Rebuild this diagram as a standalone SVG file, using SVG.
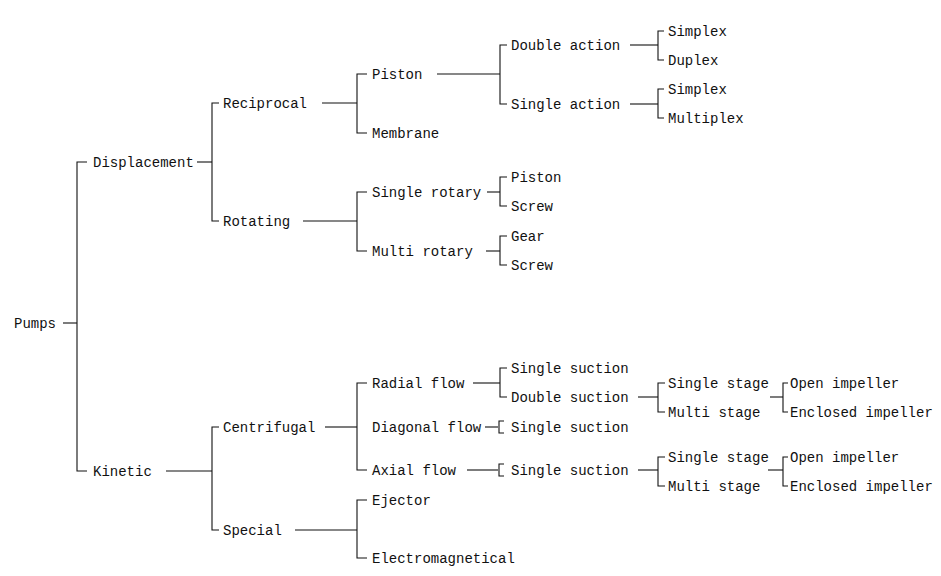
<svg xmlns="http://www.w3.org/2000/svg" width="941" height="576" viewBox="0 0 941 576">
<style>
text{font-family:"Liberation Mono","DejaVu Sans Mono",monospace;font-size:14px;fill:#111}
.c path,.c line{fill:none;stroke:#111;stroke-width:1.1}
</style>
<rect width="941" height="576" fill="#fff"/>
<g id="connectors" class="c">
<line x1="63" y1="323" x2="77" y2="323"/>
<path d="M87,162H77V471H87"/>
<line x1="197" y1="162" x2="212" y2="162"/>
<path d="M219,103H212V221H219"/>
<line x1="322" y1="103" x2="357" y2="103"/>
<path d="M367,74H357V133H367"/>
<line x1="437" y1="74" x2="500" y2="74"/>
<path d="M507,45H500V104H507"/>
<line x1="630" y1="45" x2="658" y2="45"/>
<path d="M664,31H658V60H664"/>
<line x1="630" y1="104" x2="658" y2="104"/>
<path d="M664,89H658V118H664"/>
<line x1="303" y1="221" x2="357" y2="221"/>
<path d="M367,192H357V251H367"/>
<line x1="487" y1="192" x2="500" y2="192"/>
<path d="M507,177H500V206H507"/>
<line x1="486" y1="251" x2="500" y2="251"/>
<path d="M507,236H500V265H507"/>
<line x1="166" y1="471" x2="212" y2="471"/>
<path d="M219,427H212V530H219"/>
<line x1="325" y1="427" x2="357" y2="427"/>
<path d="M367,383H357V470H367"/>
<line x1="473" y1="383" x2="500" y2="383"/>
<path d="M507,368H500V397H507"/>
<line x1="485" y1="427" x2="498" y2="427"/>
<path d="M504,421H499V433H504"/>
<line x1="467" y1="470" x2="498" y2="470"/>
<path d="M504,464H499V476H504"/>
<line x1="638" y1="397" x2="658" y2="397"/>
<path d="M665,383H658V412H665"/>
<line x1="638" y1="470" x2="658" y2="470"/>
<path d="M665,457H658V486H665"/>
<line x1="770" y1="397" x2="783" y2="397"/>
<path d="M788,383H783V412H788"/>
<line x1="768" y1="470" x2="783" y2="470"/>
<path d="M788,457H783V486H788"/>
<line x1="295" y1="530" x2="357" y2="530"/>
<path d="M367,500H357V558H367"/>
</g>
<g id="pumps"><text x="14" y="328">Pumps</text></g>
<g id="displacement"><text x="93" y="167">Displacement</text></g>
<g id="kinetic"><text x="93" y="476">Kinetic</text></g>
<g id="reciprocal"><text x="223" y="108">Reciprocal</text></g>
<g id="rotating"><text x="223" y="226">Rotating</text></g>
<g id="centrifugal"><text x="223" y="432">Centrifugal</text></g>
<g id="special"><text x="223" y="535">Special</text></g>
<g id="piston"><text x="372" y="79">Piston</text></g>
<g id="membrane"><text x="372" y="138">Membrane</text></g>
<g id="single-rotary"><text x="372" y="197">Single rotary</text></g>
<g id="multi-rotary"><text x="372" y="256">Multi rotary</text></g>
<g id="radial-flow"><text x="372" y="388">Radial flow</text></g>
<g id="diagonal-flow"><text x="372" y="432">Diagonal flow</text></g>
<g id="axial-flow"><text x="372" y="475">Axial flow</text></g>
<g id="ejector"><text x="372" y="505">Ejector</text></g>
<g id="electromagnetical"><text x="372" y="563">Electromagnetical</text></g>
<g id="double-action"><text x="511" y="50">Double action</text></g>
<g id="single-action"><text x="511" y="109">Single action</text></g>
<g id="rot-piston"><text x="511" y="182">Piston</text></g>
<g id="rot-screw-1"><text x="511" y="211">Screw</text></g>
<g id="gear"><text x="511" y="241">Gear</text></g>
<g id="rot-screw-2"><text x="511" y="270">Screw</text></g>
<g id="single-suction-1"><text x="511" y="373">Single suction</text></g>
<g id="double-suction"><text x="511" y="402">Double suction</text></g>
<g id="single-suction-2"><text x="511" y="432">Single suction</text></g>
<g id="single-suction-3"><text x="511" y="475">Single suction</text></g>
<g id="simplex-1"><text x="668" y="36">Simplex</text></g>
<g id="duplex"><text x="668" y="65">Duplex</text></g>
<g id="simplex-2"><text x="668" y="94">Simplex</text></g>
<g id="multiplex"><text x="668" y="123">Multiplex</text></g>
<g id="single-stage-1"><text x="668" y="388">Single stage</text></g>
<g id="multi-stage-1"><text x="668" y="417">Multi stage</text></g>
<g id="single-stage-2"><text x="668" y="462">Single stage</text></g>
<g id="multi-stage-2"><text x="668" y="491">Multi stage</text></g>
<g id="open-impeller-1"><text x="790" y="388">Open impeller</text></g>
<g id="enclosed-impeller-1"><text x="790" y="417">Enclosed impeller</text></g>
<g id="open-impeller-2"><text x="790" y="462">Open impeller</text></g>
<g id="enclosed-impeller-2"><text x="790" y="491">Enclosed impeller</text></g>
</svg>
